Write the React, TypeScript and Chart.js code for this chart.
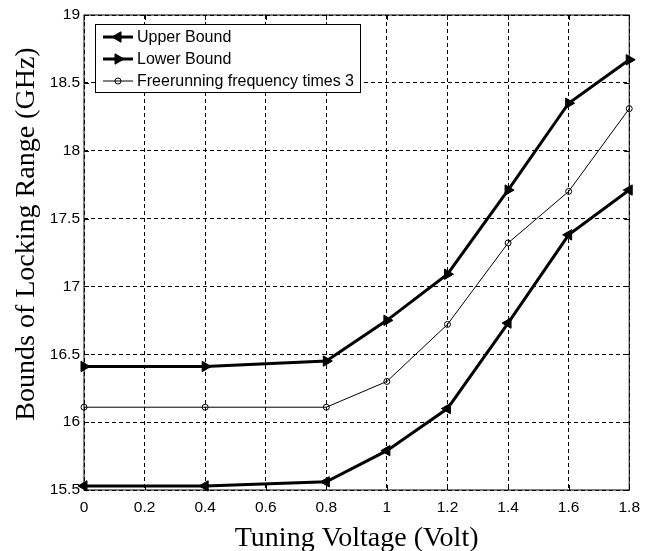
import React, { useEffect, useRef } from "react";
import { Chart, registerables } from "chart.js";

Chart.register(...registerables);

const voltages = [0, 0.4, 0.8, 1.0, 1.2, 1.4, 1.6, 1.8];
const upperBound = [15.53, 15.53, 15.56, 15.79, 16.1, 16.73, 17.38, 17.71];
const lowerBound = [16.41, 16.41, 16.45, 16.75, 17.09, 17.71, 18.35, 18.67];
const freerunning = [16.11, 16.11, 16.11, 16.3, 16.72, 17.32, 17.7, 18.31];
const seriesLabels = ["Upper Bound", "Lower Bound", "Freerunning frequency times 3"];
const xTitle = "Tuning Voltage (Volt)";
const yTitle = "Bounds of Locking Range (GHz)";

const SANS = "'Liberation Sans', Arial, sans-serif";
const SERIF = "'Liberation Serif', 'Times New Roman', serif";

function toPoints(ys: number[]) {
  return voltages.map((x, i) => ({ x, y: ys[i] }));
}

function drawMarker(ctx: CanvasRenderingContext2D, ds: any, x: number, y: number) {
  const r = ds.pointRadius;
  ctx.save();
  ctx.lineWidth = ds.pointBorderWidth;
  ctx.strokeStyle = ds.pointBorderColor;
  ctx.fillStyle = ds.pointBackgroundColor;
  ctx.beginPath();
  if (ds.pointStyle === "triangle") {
    let rad = (ds.pointRotation * Math.PI) / 180;
    for (let k = 0; k < 3; k++) {
      const px = x + Math.sin(rad) * r;
      const py = y - Math.cos(rad) * r;
      if (k === 0) ctx.moveTo(px, py);
      else ctx.lineTo(px, py);
      rad += (2 * Math.PI) / 3;
    }
    ctx.closePath();
  } else {
    ctx.arc(x, y, r, 0, Math.PI * 2);
  }
  ctx.fill();
  ctx.stroke();
  ctx.restore();
}

const framePlugin = {
  id: "frame",
  afterDraw(chart: any) {
    const { ctx, chartArea } = chart;
    const { left, right, top, bottom } = chartArea;
    ctx.save();
    ctx.strokeStyle = "#000";
    ctx.lineWidth = 1;
    ctx.setLineDash([]);
    ctx.strokeRect(left, top, right - left, bottom - top);
    // inner tick marks
    const tl = 5;
    const xs = chart.scales.x;
    const ys = chart.scales.y;
    ctx.beginPath();
    xs.ticks.forEach((t: any) => {
      const px = Math.round(xs.getPixelForValue(t.value)) + 0.5;
      ctx.moveTo(px, bottom);
      ctx.lineTo(px, bottom - tl);
      ctx.moveTo(px, top);
      ctx.lineTo(px, top + tl);
    });
    ys.ticks.forEach((t: any) => {
      const py = Math.round(ys.getPixelForValue(t.value)) + 0.5;
      ctx.moveTo(left, py);
      ctx.lineTo(left + tl, py);
      ctx.moveTo(right, py);
      ctx.lineTo(right - tl, py);
    });
    ctx.stroke();

    // axis titles
    ctx.fillStyle = "#000";
    ctx.font = `28px ${SERIF}`;
    ctx.textAlign = "center";
    ctx.textBaseline = "alphabetic";
    ctx.fillText(xTitle, (left + right) / 2, 546);
    ctx.save();
    ctx.translate(33.5, 234);
    ctx.rotate(-Math.PI / 2);
    ctx.fillText(yTitle, 0, 0);
    ctx.restore();

    // legend
    const bx = 95, by = 24, bw = 265, bh = 68;
    ctx.fillStyle = "#fff";
    ctx.fillRect(bx, by, bw, bh);
    ctx.strokeRect(bx + 0.5, by + 0.5, bw, bh);
    const rowY = [37, 59, 81];
    const lx0 = 103, lx1 = 133;
    chart.data.datasets.forEach((ds: any, i: number) => {
      const y = rowY[i];
      ctx.save();
      ctx.strokeStyle = ds.borderColor;
      ctx.lineWidth = ds.borderWidth;
      ctx.beginPath();
      ctx.moveTo(lx0, y);
      ctx.lineTo(lx1, y);
      ctx.stroke();
      ctx.restore();
      drawMarker(ctx, ds, (lx0 + lx1) / 2, y);
      ctx.fillStyle = "#000";
      ctx.font = `16px ${SANS}`;
      ctx.textBaseline = "middle";
      ctx.textAlign = "left";
      ctx.fillText(ds.label, 137, y + 1);
    });
    ctx.restore();
  },
};

export default function App() {
  const canvasRef = useRef<HTMLCanvasElement | null>(null);

  useEffect(() => {
    const canvas = canvasRef.current;
    if (!canvas) return;
    const chart = new Chart(canvas, {
      type: "line",
      data: {
        datasets: [
          {
            label: seriesLabels[0],
            data: toPoints(upperBound),
            borderColor: "#000",
            borderWidth: 3,
            pointStyle: "triangle",
            pointRotation: -90,
            pointRadius: 6,
            pointBorderWidth: 1,
            pointBackgroundColor: "#000",
            pointBorderColor: "#000",
            clip: false,
          },
          {
            label: seriesLabels[1],
            data: toPoints(lowerBound),
            borderColor: "#000",
            borderWidth: 3,
            pointStyle: "triangle",
            pointRotation: 90,
            pointRadius: 6,
            pointBorderWidth: 1,
            pointBackgroundColor: "#000",
            pointBorderColor: "#000",
            clip: false,
          },
          {
            label: seriesLabels[2],
            data: toPoints(freerunning),
            borderColor: "#000",
            borderWidth: 1,
            pointStyle: "circle",
            pointRadius: 3,
            pointBorderWidth: 1,
            pointBackgroundColor: "rgba(255,255,255,0)",
            pointBorderColor: "#000",
            clip: false,
          },
        ] as any,
      },
      options: {
        animation: false,
        responsive: false,
        devicePixelRatio: 1,
        layout: { padding: { top: 15, right: 15, left: 0, bottom: 0 } },
        plugins: { legend: { display: false }, tooltip: { enabled: false } },
        elements: { line: { tension: 0 } },
        scales: {
          x: {
            type: "linear",
            min: 0,
            max: 1.8,
            border: { display: false, dash: [4, 3] },
            grid: { color: "#000", lineWidth: 1, drawTicks: false },
            ticks: {
              stepSize: 0.2,
              padding: 8,
              color: "#000",
              font: { family: SANS, size: 15.5 },
              callback: (v: any) => String(Number(Number(v).toFixed(1))),
            },
            title: { display: false },
            afterFit: (s: any) => {
              s.height = 61;
            },
          },
          y: {
            type: "linear",
            min: 15.5,
            max: 19,
            border: { display: false, dash: [4, 3] },
            grid: { color: "#000", lineWidth: 1, drawTicks: false },
            ticks: {
              stepSize: 0.5,
              padding: 4,
              color: "#000",
              font: { family: SANS, size: 15.5 },
              callback: (v: any) => String(Number(Number(v).toFixed(1))),
            },
            title: { display: false },
            afterFit: (s: any) => {
              s.width = 84;
            },
          },
        },
      } as any,
      plugins: [framePlugin],
    });
    return () => chart.destroy();
  }, []);

  return (
    <div style={{ position: "fixed", left: 0, top: 0, width: 648, height: 551, background: "#fff" }}>
      <canvas ref={canvasRef} width={648} height={551} style={{ display: "block" }} />
    </div>
  );
}
